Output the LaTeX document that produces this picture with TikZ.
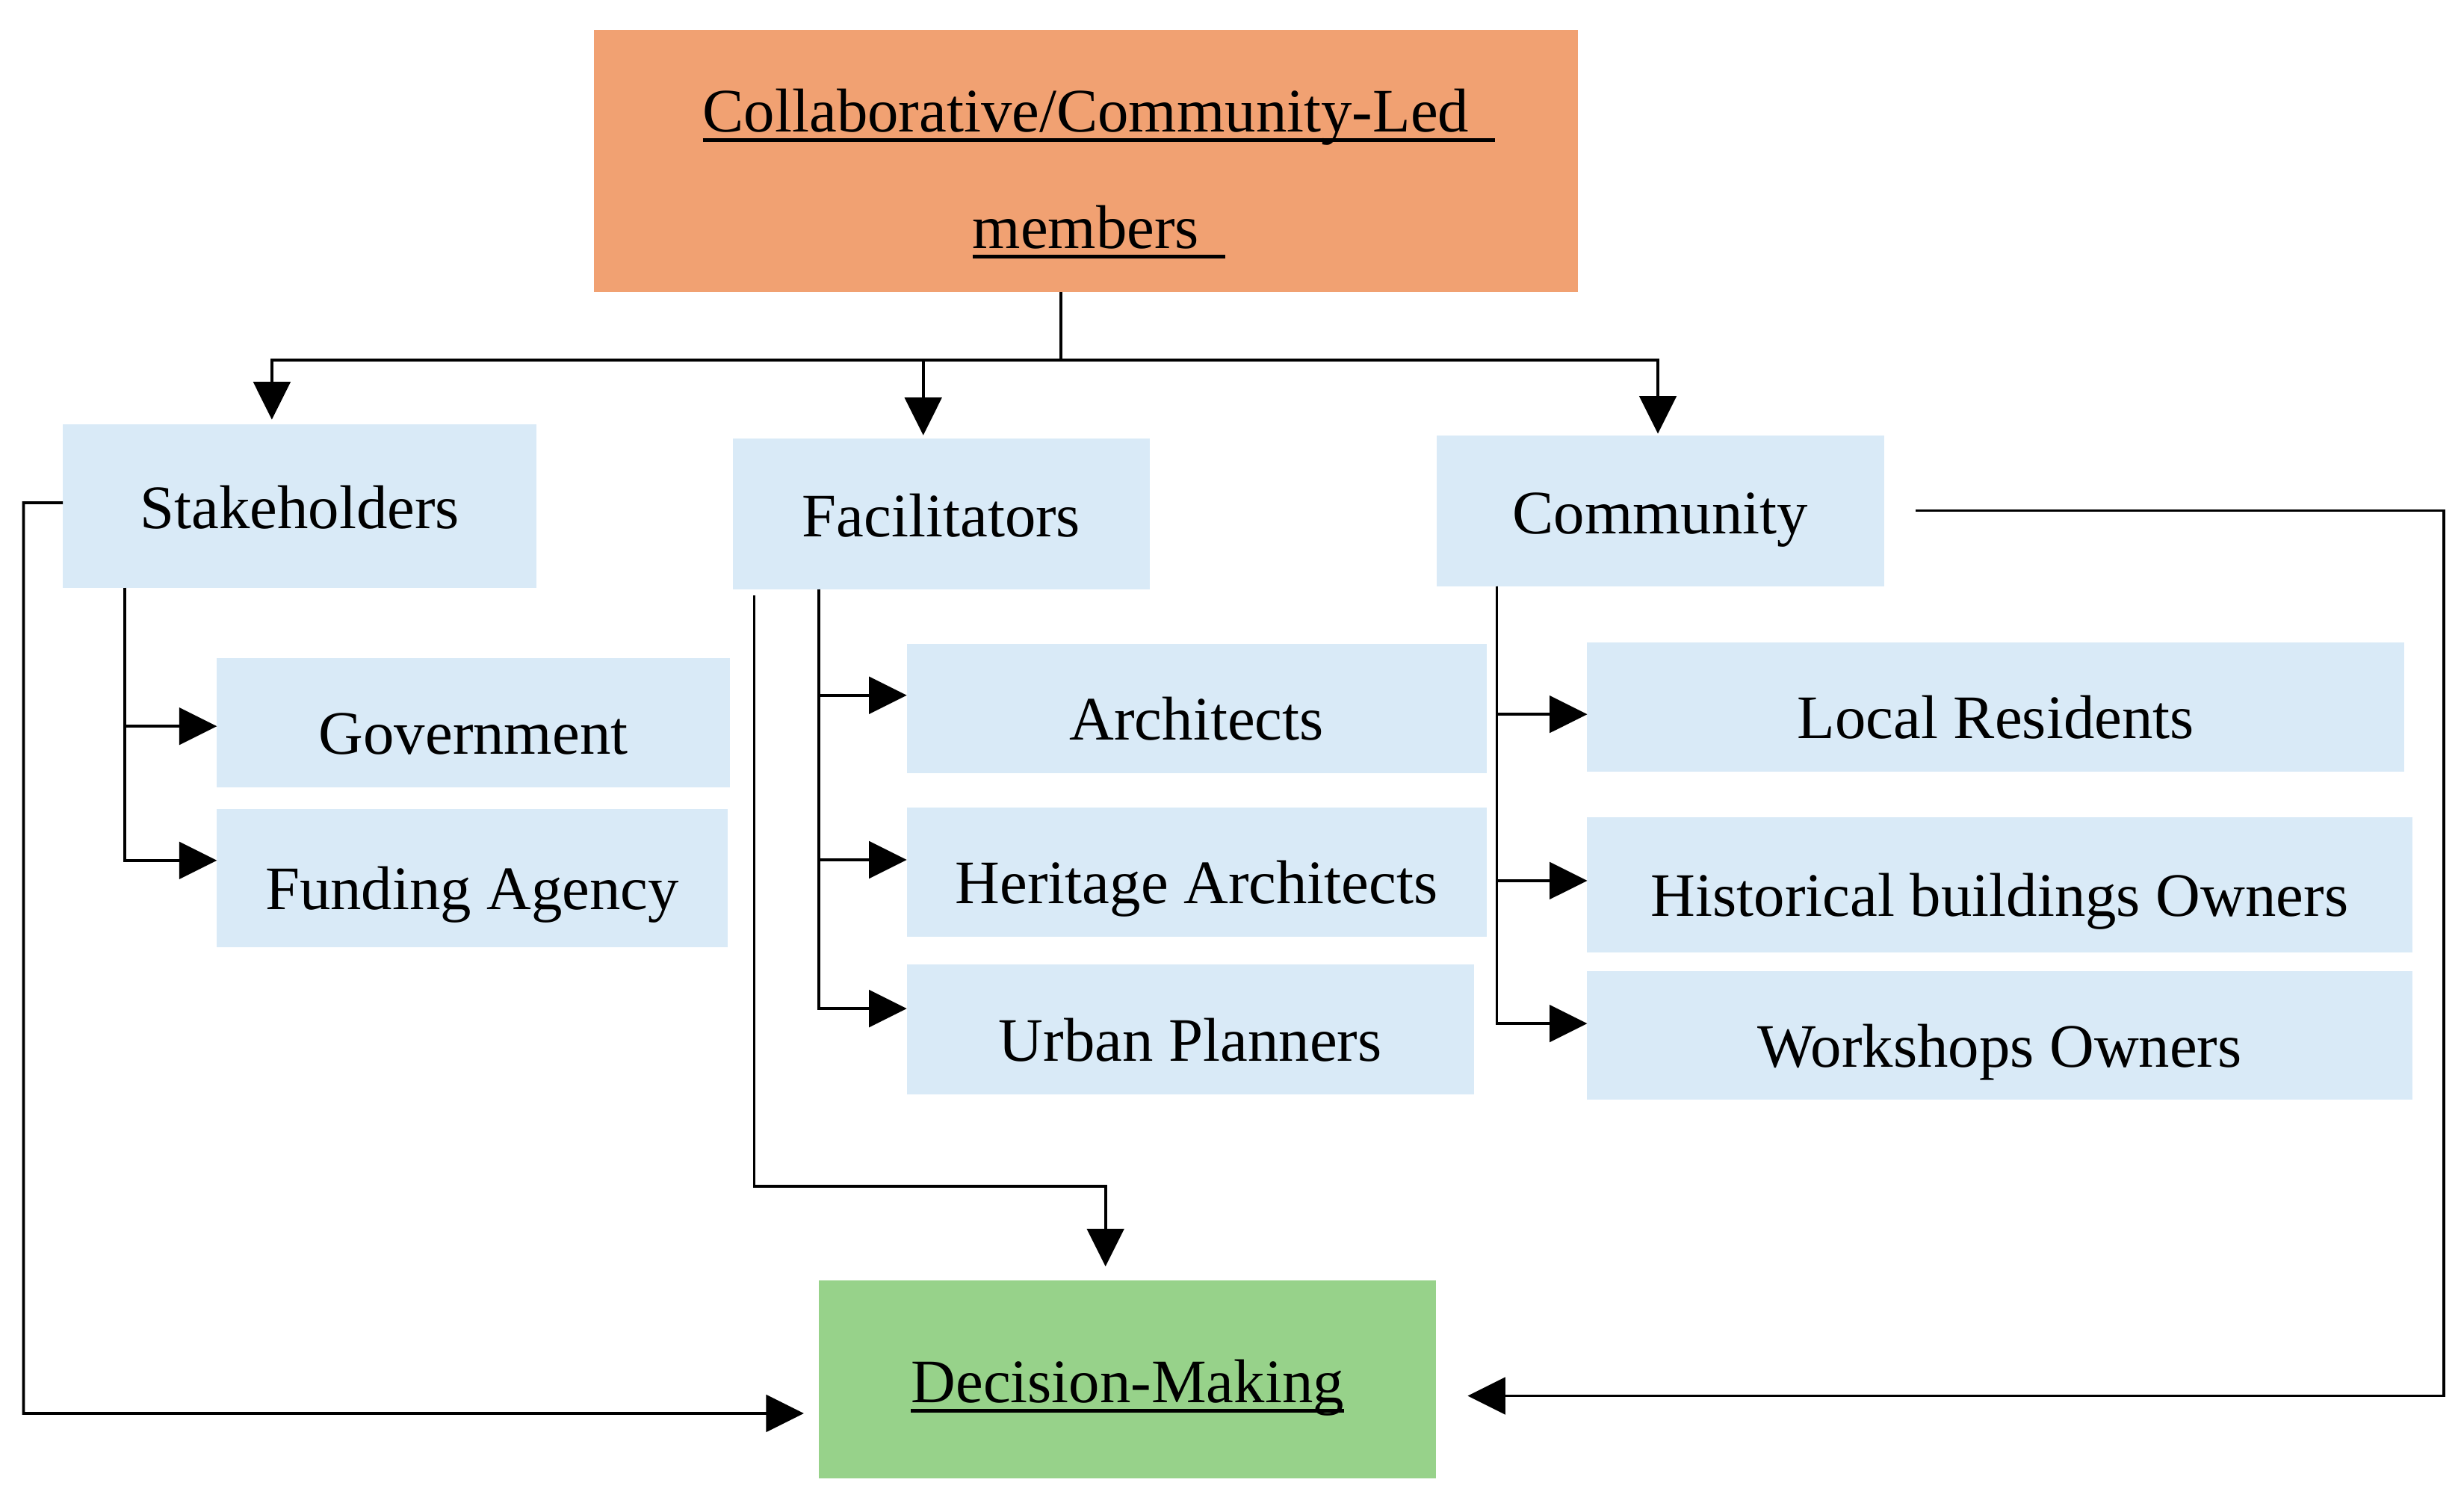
\documentclass[tikz,border=0pt]{standalone}
\usepackage{fontspec}
\setmainfont{Liberation Serif}
\usetikzlibrary{arrows.meta,calc}
\definecolor{topfill}{HTML}{F1A172}
\definecolor{boxfill}{HTML}{D9EAF7}
\definecolor{decfill}{HTML}{97D28A}
\newcommand{\ulword}[2][0pt]{\setbox0=\hbox{#2}\rlap{\rule[-3.6pt]{\dimexpr\wd0+#1\relax}{1.4pt}}\box0}

\begin{document}
\begin{tikzpicture}[x=0.02cm, y=-0.02cm, line width=1pt, font=\fontsize{22.4}{27}\selectfont,
    main/.style = {fill=boxfill, inner sep=0pt, outer sep=0pt},
    head/.style = {main, text height=16.6pt, text depth=0pt},
    sub/.style = {main, text height=22.85pt, text depth=0pt},
    arrow/.style = {-{Triangle[length=0.48cm,width=0.47cm]}}]
\useasboundingbox (0,0) rectangle (1568,960);
% Nodes
\node[main, fill=topfill, minimum width=12.52cm, minimum height=3.34cm, text height=0pt, text depth=21.2pt] (top) at (691,102.5)
    {\begin{tabular}[t]{@{}c@{}}\ulword[9.4pt]{Collaborative/Community-Led}\\[15.3pt]\ulword[9.4pt]{members}\end{tabular}};
\node[head, minimum width=6.03cm, minimum height=2.08cm] (stake) at (190.75,322) {Stakeholders};
\node[head, minimum width=5.30cm, minimum height=1.92cm] (facil) at (599,327) {Facilitators};
\node[head, minimum width=5.70cm, minimum height=1.92cm] (comm) at (1056.5,325) {Community};
\node[sub, minimum width=6.53cm, minimum height=1.64cm] (gov) at (301.25,460) {Government};
\node[sub, minimum width=6.50cm, minimum height=1.76cm] (fund) at (300.5,559) {Funding Agency};
\node[sub, minimum width=7.38cm, minimum height=1.64cm] (arch) at (761.5,451) {Architects};
\node[sub, minimum width=7.38cm, minimum height=1.64cm] (herit) at (761.5,555) {Heritage Architects};
\node[sub, minimum width=7.22cm, minimum height=1.65cm] (urban) at (757.5,655.25) {Urban Planners};
\node[sub, minimum width=10.40cm, minimum height=1.64cm] (local) at (1270,450) {Local Residents};
\node[sub, minimum width=10.50cm, minimum height=1.72cm] (hist) at (1272.5,563) {Historical buildings Owners};
\node[sub, minimum width=10.50cm, minimum height=1.64cm] (work) at (1272.5,659) {Workshops Owners};
\node[main, fill=decfill, minimum width=7.86cm, minimum height=2.52cm, text height=16.9pt, text depth=0pt] (dec) at (717.5,878)
    {\ulword{Decision-Making}};
% Edges
\coordinate (split) at (675,229);
\draw (top.south -| split) -- (split);
\draw[arrow, shorten >=0.06cm] (split) -| ([xshift=-0.355cm]stake.north);
\draw[arrow, shorten >=0.04cm] (split) -| ([xshift=-0.23cm]facil.north);
\draw[arrow, shorten >=0.02cm] (split) -| ([xshift=-0.03cm]comm.north);
\draw[arrow] ([xshift=-2.225cm]stake.south) |- ([yshift=-0.044cm]gov.west);
\draw[arrow] ([xshift=-2.225cm]stake.south) |- ([yshift=0.228cm]fund.west);
\draw[arrow] ([xshift=-1.56cm]facil.south) |- ([yshift=0.17cm]arch.west);
\draw[arrow] ([xshift=-1.56cm]facil.south) |- ([yshift=0.156cm]herit.west);
\draw[arrow] ([xshift=-1.56cm]facil.south) |- ([yshift=0.267cm]urban.west);
\draw[arrow] ([xshift=-2.08cm]comm.south) |- ([yshift=-0.092cm]local.west);
\draw[arrow] ([xshift=-2.08cm]comm.south) |- ([yshift=0.05cm]hist.west);
\draw[arrow] ([xshift=-2.08cm]comm.south) |- ([yshift=0.152cm]work.west);
% Feedback to decision
\coordinate (lloop) at (15,320);
\coordinate (fbend) at (480,755);
\coordinate (rloop) at (1555,325);
\draw[arrow, shorten >=0.19cm] ([yshift=0.04cm]stake.west) -- (lloop) |- ([yshift=-0.43cm]dec.west);
\draw[arrow, shorten >=0.18cm] ($(fbend |- facil.south)+(0,-0.08cm)$) -- (fbend) -| ([xshift=-0.28cm]dec.north);
\draw[arrow, shorten >=0.4cm] ([xshift=0.4cm]comm.east) -- (rloop) |- ([yshift=-0.208cm]dec.east);
\end{tikzpicture}
\end{document}
